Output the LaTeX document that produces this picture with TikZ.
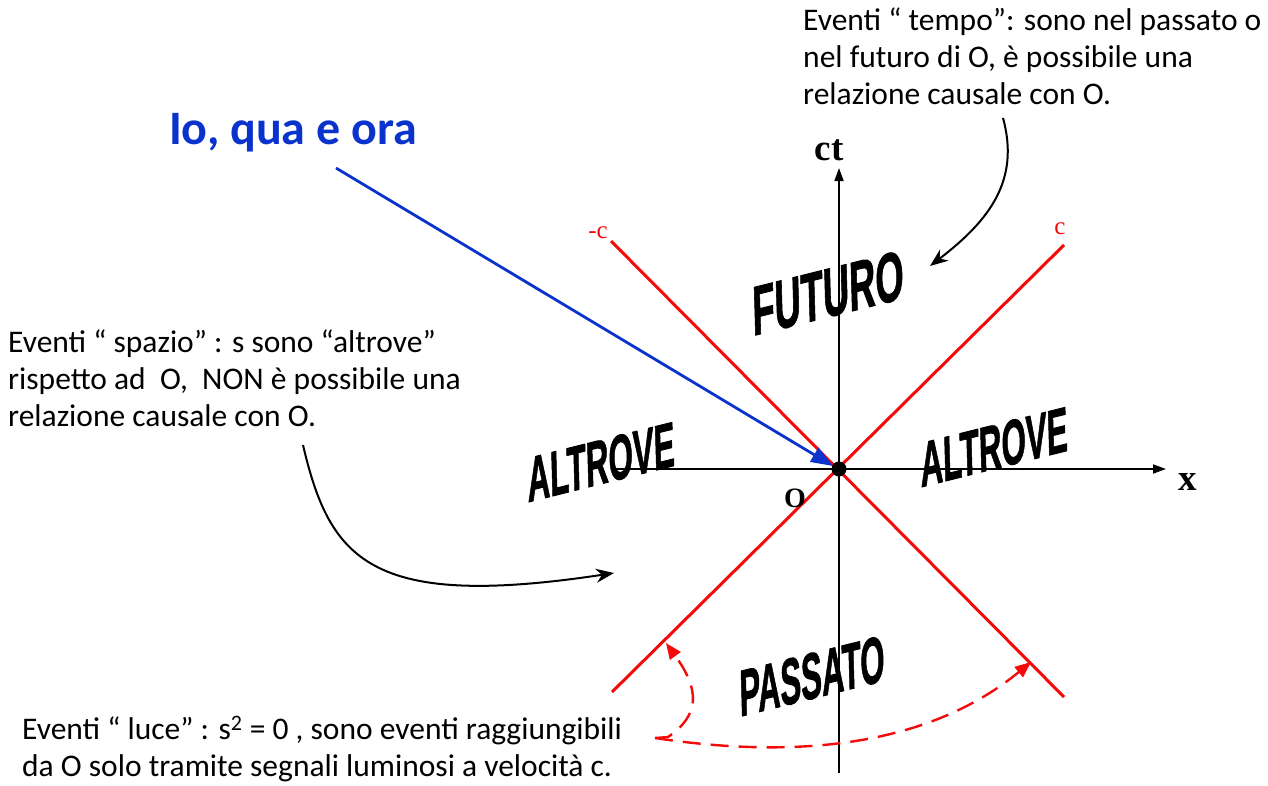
\documentclass[tikz,border=0pt]{standalone}
\usepackage{fontspec}
\setmainfont{Carlito}
\newfontfamily\serifb{Liberation Serif}
\newfontfamily\wafont{Liberation Sans}[FakeBold=1.5]
\usetikzlibrary{arrows.meta}
\definecolor{ioblue}{RGB}{10,50,205}
\definecolor{conered}{RGB}{245,10,10}
\tikzset{
  note/.style={font=\fontsize{31.5}{37}\selectfont, align=left, inner sep=0pt, anchor=north west},
  wordart/.style={inner sep=0pt, transform shape},
  axis/.style={line width=1.8pt, -{Triangle[length=13pt,width=9pt]}},
  cone/.style={conered, line width=3pt},
  lab/.style={font=\serifb\bfseries\fontsize{37}{37}\selectfont, inner sep=0pt},
  clab/.style={font=\serifb\fontsize{25}{25}\selectfont, text=conered, inner sep=0pt},
  callout/.style={line width=2pt, -{Stealth[length=18pt,width=14pt]}},
  lightarrow/.style={conered, line width=2.4pt, dash pattern=on 18pt off 10pt, -{Triangle[length=16pt,width=13pt]}}
}
\begin{document}
\begin{tikzpicture}[x=1pt,y=-1pt]
\useasboundingbox (0,0) rectangle (1268,785);
% origin and axes
\coordinate (O) at (839,469);
\coordinate (xl) at (615,469);
\coordinate (xr) at (1166,469);
\coordinate (yb) at (839,773);
\coordinate (yt) at (839,168);
\draw[line width=1.8pt] (xl) -- (O);
\draw[axis] (O) -- (xr);
\draw[line width=1.8pt] (yb) -- (O);
\draw[axis] (O) -- (yt);
% light cone
\coordinate (mcTop) at (611,241);
\coordinate (mcBot) at (1064,697);
\coordinate (cTop) at (1064,245);
\coordinate (cBot) at (612,692);
\draw[cone] (mcTop) -- (mcBot);
\draw[cone] (cTop) -- (cBot);
\node[clab] (mc) at (598,233) {-c};
\node[clab] (cc) at (1060,229) {c};
% labels
\node[lab] (ct) at (829,150) {ct};
\node[lab] (xlab) at (1188,482) {x};
\node[lab, font=\serifb\bfseries\fontsize{28}{28}\selectfont] (olab) at (795,498) {O};
% Io qua e ora
\node[font=\bfseries\fontsize{48}{48}\selectfont, text=ioblue, inner sep=0pt] (io) at (293,133) {Io, qua e ora};
\coordinate (ioStart) at (336,168);
\draw[ioblue, line width=2.8pt, -{Triangle[length=22pt,width=16pt]}] (ioStart) -- (833,466);
\fill (O) circle (7.5pt);
% word art
\node[wordart, rotate=14, xslant=0.22, xscale=0.55, font=\wafont\bfseries\fontsize{68}{68}\selectfont] (fut) at (828,293) {FUTURO};
\node[wordart, rotate=14, xslant=0.22, xscale=0.52, font=\wafont\bfseries\fontsize{62}{62}\selectfont] (altL) at (601,462) {ALTROVE};
\node[wordart, rotate=14, xslant=0.22, xscale=0.52, font=\wafont\bfseries\fontsize{62}{62}\selectfont] (altR) at (994,447) {ALTROVE};
\node[wordart, rotate=14, xslant=0.22, xscale=0.50, font=\wafont\bfseries\fontsize{64}{64}\selectfont] (pas) at (812,676) {PASSATO};
% notes
\node[note] (tempo) at (803,8) {Eventi “ tempo”: sono nel passato o\\nel futuro di O, è possibile una\\relazione causale con O.};
\node[note] (spazio) at (8,330) {Eventi “ spazio” : s sono “altrove”\\rispetto ad\ \ O,\ \ NON è possibile una\\relazione causale con O.};
\node[note] (luce) at (22,716) {Eventi “ luce” : s\textsuperscript{2} = 0 , sono eventi raggiungibili\\da O solo tramite segnali luminosi a velocità c.};
% callouts
\coordinate (tA) at (1003,118);
\coordinate (tB) at (930,266);
\draw[callout] (tA) .. controls (1020,180) and (990,220) .. (tB);
\coordinate (sA) at (303,445);
\coordinate (sB) at (614,573);
\draw[callout] (sA) .. controls (330,560) and (370,610) .. (sB);
% light arrows
\coordinate (lA) at (655,738);
\coordinate (lB) at (666,643);
\coordinate (lC) at (1031,662);
\draw[lightarrow] (lA) -- (668,737) .. controls (700,715) and (700,690) .. (lB);
\draw[lightarrow] (lA) .. controls (800,760) and (930,745) .. (lC);
\end{tikzpicture}
\end{document}
